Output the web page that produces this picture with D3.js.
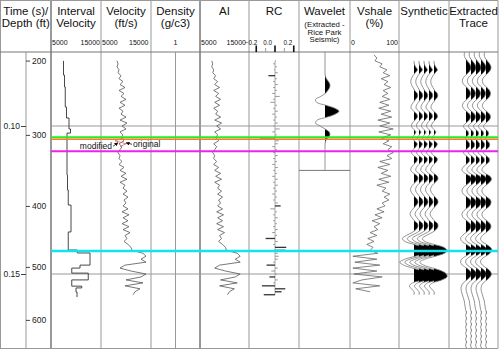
<!DOCTYPE html>
<html>
<head>
<meta charset="utf-8">
<script src="https://cdn.jsdelivr.net/npm/d3@7"></script>
<style>
  body { margin: 0; background: #fff; }
  svg { display: block; font-family: "Liberation Sans", Arial, sans-serif; }
</style>
</head>
<body>
<div id="chart"></div>
<script>
// ---- data: all logs/traces in two-way time (ms), sampled every 1 ms ----
const headers = [
  ['Time (s)/', 'Depth (ft)'], ['Interval', 'Velocity'], ['Velocity', '(ft/s)'],
  ['Density', '(g/c3)'], ['AI'], ['RC'], ['Wavelet'], ['Vshale', '(%)'],
  ['Synthetic'], ['Extracted', 'Trace']
];
const waveletSub = ['(Extracted -', 'Rice Park', 'Seismic)'];

const timeTicks = [0.10, 0.15];
// time-depth table (depth ft -> time ms)
const tdDepth = [200, 300, 400, 500, 600];
const tdTime = [77.9, 103.0, 127.0, 147.6, 165.5];

// interval velocity layers (top time ms, ft/s)
const ivTop = [78.0, 82.8, 86.8, 93.6, 97.3, 101.0, 102.4, 116.6, 121.6, 126.7, 135.8, 141.9, 142.9, 147.0, 148.0, 149.7, 152.0, 154.1, 154.7, 156.1];
const ivVel = [7500, 7700, 7850, 8100, 8600, 8900, 8200, 8300, 8450, 9000, 8450, 10250, 12800, 10800, 9150, 12450, 9150, 11150, 10000, 10200];
const ivBase = 157.8;

// sonic velocity, ms 78..157
const velStart = 78;
const velocity = [8200, 8400, 8200, 8600, 8400, 9000, 8600, 9400, 8800, 9800,
  8600, 9600, 9000, 10000, 8800, 9800, 8600, 9400, 9000, 10000,
  8800, 10200, 9200, 10000, 8800, 9400, 9000, 9600, 8600, 9200,
  8800, 8400, 8800, 8600, 9200, 8600, 9600, 8800, 10000, 9000,
  10200, 8800, 9800, 9400, 10200, 9400, 10400, 9600, 10000, 9400,
  10400, 9200, 10600, 9400, 10400, 9200, 10600, 9400, 10800, 9800,
  10200, 9600, 10400, 11000, 11200, 13400, 14000, 13000, 14000, 9800,
  8800, 11000, 14000, 13000, 10000, 13400, 9800, 12800, 11800, 11400];
// original (before edit) velocity, ms 104..107
const velOrigStart = 104;
const velOriginal = [9600, 7800, 10000, 8800];

const densityTime = [75, 175];
const density = [1, 1];

// reflection coefficients, ms 78..157
const rcStart = 78;
const rc = [0.01, -0.02, 0.02, -0.01, 0.03, -0.07, 0.02, -0.02, 0.03, -0.02,
  0.02, -0.03, 0.05, -0.02, -0.05, 0.02, -0.02, 0.03, -0.03, 0.02,
  -0.02, 0.03, -0.02, 0.05, -0.03, 0.02, -0.16, 0.04, 0.03, -0.03,
  0.02, -0.02, 0.03, -0.02, 0.02, -0.03, 0.03, -0.02, 0.02, -0.03,
  0.03, -0.02, 0.03, -0.02, 0.02, -0.03, 0.02, -0.02, 0.03, 0.06,
  -0.05, 0.02, -0.02, 0.03, -0.02, 0.02, -0.02, 0.03, -0.03, 0.02,
  -0.1, 0.03, -0.02, 0.12, 0.11, 0.03, 0.04, 0.03, -0.02, -0.09,
  0.03, -0.04, 0.02, -0.06, 0.03, -0.02, -0.14, 0.11, 0.07, -0.12];

// wavelet, lag -20..20 ms, displayed centred at 95 ms
const waveletCentre = 95;
const waveletAmp = [0, 0, 0, 0, 0, 0, 0, 0, 0.02, 0.1, 0.25, 0.35, 0.33, 0.2, 0.02, -0.3, -0.68, -0.6, 0.05, 0.7,
  1, 0.72, 0.15, -0.55, -0.68, -0.35, 0, 0.3, 0.35, 0.2, 0.05, 0, 0, 0, 0, 0, 0, 0, 0, 0, 0];

// vshale %, ms 76..156
const vshStart = 76;
const vshale = [50, 56, 52, 67, 62, 77, 69, 83, 65, 79, 71, 85, 69, 79, 67, 83, 62, 81, 60, 85,
  65, 87, 58, 83, 62, 90, 60, 85, 65, 81, 69, 87, 79, 90, 77, 87, 62, 83, 58, 79,
  65, 85, 60, 81, 56, 75, 67, 83, 71, 81, 67, 73, 56, 71, 52, 67, 46, 62, 50, 58,
  42, 56, 37, 50, 35, 48, 42, 58, 6, 56, 10, 62, 6, 56, 8, 67, 25, 6, 62, 12, 42];

// synthetic trace, ms 78..157
const synStart = 78;
const synthetic = [0, 0.02, 0.12, 0.26, 0.1, -0.08, -0.2, -0.25, -0.2, -0.08,
  0.05, 0.25, 0.28, 0.12, -0.05, -0.2, -0.22, -0.02, 0.22, 0.26,
  0.08, -0.12, -0.2, -0.05, 0.14, 0.02, -0.15, 0.02, 0.25, 0.15,
  -0.08, -0.2, -0.02, 0.25, 0.2, -0.02, -0.2, -0.25, -0.02, 0.26,
  0.3, 0.1, -0.12, -0.25, -0.25, -0.1, 0.08, 0.28, 0.3, 0.12,
  -0.08, -0.25, -0.3, -0.15, 0.02, 0.28, 0.3, 0.15, -0.15, -0.6,
  -0.9, -0.7, 0, 0.75, 1, 0.8, 0.1, -0.7, -1.1, -0.8,
  -0.1, 0.6, 0.95, 1, 0.6, -0.1, -0.35, -0.2, 0, 0];

// extracted seismic trace, ms 75..175
const extStart = 75;
const extracted = [-0.15, -0.2, -0.1, 0.15, 0.4, 0.55, 0.5, 0.25, -0.1, -0.35,
  -0.4, -0.25, 0.1, 0.4, 0.5, 0.4, 0.1, -0.25, -0.4, -0.3,
  0.05, 0.4, 0.5, 0.35, 0, -0.3, -0.1, 0.25, 0.25, -0.05,
  0.15, 0.4, 0.35, 0, -0.3, 0, 0.35, 0.35, 0, -0.35,
  -0.45, -0.1, 0.45, 0.6, 0.4, 0, -0.35, -0.45, -0.3, 0.1,
  0.5, 0.55, 0.4, 0, -0.35, -0.45, -0.3, 0.1, 0.45, 0.55,
  0.4, 0, -0.4, -0.6, -0.45, 0.05, 0.5, 0.65, 0.45, -0.05,
  -0.5, -0.6, -0.4, 0.05, 0.45, 0.6, 0.45, 0.1, -0.3, -0.5,
  -0.55, -0.5, -0.4, -0.3, -0.2, -0.15, -0.1, -0.05, 0.05, -0.05,
  0.05, -0.05, 0.05, -0.05, 0.05, -0.05, 0.05, -0.05, 0.05, -0.05,
  0.05];

// horizons (ms)
const horizonTime = [103.8, 104.5, 108.5, 142.2];
const horizonColor = ['#22ee22', '#ff7a22', '#ee22ee', '#11e2ee'];
const horizonWidth = [2, 1.5, 2, 2.5];

// ---- layout ----
const W = 500, H = 351;
const headTop = 0.5, plotTop = 52, plotBot = 348.5;
const edges = [0.5, 51, 101, 151, 200, 249, 299, 350, 399, 449, 498];
const darkEdges = [51, 200];

const svg = d3.select('#chart').append('svg').attr('width', W).attr('height', H);
const defs = svg.append('defs');

const y = d3.scaleLinear().domain([100, 150]).range([126, 274]);       // ms -> px
const ySec = d3.scaleLinear().domain([0.10, 0.15]).range([126, 274]);  // s -> px
const yDepth = d3.scaleLinear().domain(tdDepth).range(tdTime.map(y));

const ivX = d3.scaleLinear().domain([5000, 15000]).range([51, 101]);
const velX = d3.scaleLinear().domain([5000, 15000]).range([101, 151]);
const denX = d3.scaleLinear().domain([0, 2]).range([151, 200]);
const aiX = d3.scaleLinear().domain([5800, 15800]).range([200, 249]);
const rcX = d3.scaleLinear().domain([-0.2, 0.2]).range([256.25, 293.75]);
const vshX = d3.scaleLinear().domain([0, 100]).range([350, 398]);

const times = (start, arr) => arr.map((d, i) => start + i);

// ---- grid / frame ----
const grid = svg.append('g');
grid.selectAll('.col').data(edges).enter().append('line')
  .attr('x1', d => d).attr('x2', d => d).attr('y1', headTop).attr('y2', plotBot)
  .attr('stroke', d => darkEdges.includes(d) ? '#333' : '#999').attr('stroke-width', 1);
grid.append('line').attr('x1', 26).attr('x2', 26).attr('y1', plotTop).attr('y2', plotBot)
  .attr('stroke', '#999');
grid.append('line').attr('x1', 0).attr('x2', 498).attr('y1', headTop).attr('y2', headTop).attr('stroke', '#999');
grid.append('line').attr('x1', 0).attr('x2', 498).attr('y1', plotBot).attr('y2', plotBot).attr('stroke', '#999');
grid.append('line').attr('x1', 0).attr('x2', 498).attr('y1', plotTop).attr('y2', plotTop).attr('stroke', '#777');
grid.selectAll('.hg').data(timeTicks).enter().append('line')
  .attr('x1', 51).attr('x2', 498).attr('y1', d => ySec(d)).attr('y2', d => ySec(d))
  .attr('stroke', '#999');

// ---- headers ----
const head = svg.append('g').attr('fill', '#111').attr('text-anchor', 'middle');
headers.forEach((lines, i) => {
  const cx = (edges[i] + edges[i + 1]) / 2;
  lines.forEach((t, j) => {
    head.append('text').attr('x', cx).attr('y', 14.5 + j * 12.5).attr('font-size', 11.5).text(t);
  });
});
waveletSub.forEach((t, j) => {
  head.append('text').attr('x', (edges[6] + edges[7]) / 2).attr('y', 27 + j * 7.6)
    .attr('font-size', 7.8).text(t);
});

// scale labels
const sl = svg.append('g').attr('font-size', 7).attr('fill', '#111');
[[ivX, 52, 100], [velX, 102, 148.5], [aiX, 201, 246]].forEach(([s, a, b]) => {
  sl.append('text').attr('x', a).attr('y', 45).text('5000');
  sl.append('text').attr('x', b).attr('y', 45).attr('text-anchor', 'end').text('15000');
});
sl.append('text').attr('x', denX(1)).attr('y', 45).attr('text-anchor', 'middle').text('1');
sl.append('text').attr('x', vshX(0) + 1).attr('y', 45).text('0');
sl.append('text').attr('x', vshX(100)).attr('y', 45).attr('text-anchor', 'end').text('100');
const rcLabOff = [1, -3, -1.5];
[-0.2, 0, 0.2].forEach((v, i) => {
  sl.append('text').attr('x', rcX(v) + rcLabOff[i]).attr('y', 45).attr('text-anchor', 'end')
    .attr('font-size', 6.3).text(d3.format('.1f')(v));
  svg.append('line').attr('x1', rcX(v)).attr('x2', rcX(v)).attr('y1', 45.5).attr('y2', 52)
    .attr('stroke', '#111').attr('stroke-width', 1.6);
});
[-0.1, 0.1].forEach(v => {
  svg.append('line').attr('x1', rcX(v)).attr('x2', rcX(v)).attr('y1', 48).attr('y2', 52)
    .attr('stroke', '#999').attr('stroke-width', 1);
});

// ---- axes ----
const axT = svg.append('g').attr('transform', 'translate(26,0)')
  .call(d3.axisLeft(ySec).tickValues(timeTicks).tickFormat(d3.format('.2f')).tickSize(5).tickPadding(1));
const axD = svg.append('g').attr('transform', 'translate(26,0)')
  .call(d3.axisRight(yDepth).tickValues(tdDepth).tickFormat(d3.format('d')).tickSize(4).tickPadding(2));
[axT, axD].forEach(a => {
  a.select('.domain').remove();
  a.selectAll('text').attr('font-size', 8.5).attr('fill', '#222')
    .attr('font-family', '"Liberation Sans", Arial, sans-serif');
  a.selectAll('line').attr('stroke', '#444');
});

// ---- logs ----
const logs = svg.append('g').attr('fill', 'none');
const ivPts = ivTop.map((t, i) => [ivVel[i], t]).concat([[ivVel[ivVel.length - 1], ivBase]]);
logs.append('path').datum(ivPts)
  .attr('d', d3.line().curve(d3.curveStepBefore).x(d => ivX(d[0])).y(d => y(d[1])))
  .attr('stroke', '#333').attr('stroke-width', 0.9);

const velT = times(velStart, velocity);
logs.append('path').datum(velocity)
  .attr('d', d3.line().x(d => velX(d)).y((d, i) => y(velT[i])))
  .attr('stroke', '#555').attr('stroke-width', 0.8);
logs.append('path').datum(velOriginal)
  .attr('d', d3.line().x(d => velX(d)).y((d, i) => y(velOrigStart + i)))
  .attr('stroke', '#e06060').attr('stroke-width', 0.8);

logs.append('path').datum(density)
  .attr('d', d3.line().x(d => denX(d)).y((d, i) => y(densityTime[i])))
  .attr('stroke', '#999').attr('stroke-width', 1);

// acoustic impedance = velocity * density (density = 1)
logs.append('path').datum(velocity)
  .attr('d', d3.line().x(d => aiX(d * density[0])).y((d, i) => y(velT[i])))
  .attr('stroke', '#555').attr('stroke-width', 0.8);

// RC sticks
const rcT = times(rcStart, rc);
logs.append('line').attr('x1', rcX(0)).attr('x2', rcX(0))
  .attr('y1', y(rcT[0])).attr('y2', y(rcT[rcT.length - 1])).attr('stroke', '#aaa');
logs.selectAll('.rc').data(rc).enter().append('line')
  .attr('x1', rcX(0)).attr('x2', d => rcX(d))
  .attr('y1', (d, i) => y(rcT[i])).attr('y2', (d, i) => y(rcT[i]))
  .attr('stroke', d => Math.abs(d) >= 0.06 ? '#333' : '#999')
  .attr('stroke-width', d => Math.abs(d) >= 0.06 ? 1.3 : 1);

const vshT = times(vshStart, vshale);
logs.append('path').datum(vshale)
  .attr('d', d3.line().x(d => vshX(d)).y((d, i) => y(vshT[i])))
  .attr('stroke', '#666').attr('stroke-width', 0.8);

// ---- wiggle traces ----
let clipN = 0;
function wiggle(g, tArr, vals, base, gain, stroke) {
  const ax = d3.scaleLinear().domain([0, 1]).range([base, base + gain]);
  const pts = vals.map((v, i) => [tArr[i], v]);
  const id = 'wclip' + (clipN++);
  defs.append('clipPath').attr('id', id).append('rect')
    .attr('x', base).attr('y', 0).attr('width', 60).attr('height', H);
  g.append('path').datum(pts).attr('clip-path', `url(#${id})`)
    .attr('d', d3.area().curve(d3.curveCatmullRom).y(d => y(d[0])).x0(base).x1(d => ax(d[1])))
    .attr('fill', '#000');
  g.append('path').datum(pts)
    .attr('d', d3.line().curve(d3.curveCatmullRom).x(d => ax(d[1])).y(d => y(d[0])))
    .attr('fill', 'none').attr('stroke', stroke).attr('stroke-width', 0.8);
}

const wv = svg.append('g');
const wvT = waveletAmp.map((d, i) => waveletCentre - 20 + i);
wiggle(wv, wvT, waveletAmp, 325, 14, '#777');
wv.append('line').attr('x1', 299).attr('x2', 350)
  .attr('y1', y(wvT[wvT.length - 1])).attr('y2', y(wvT[wvT.length - 1])).attr('stroke', '#777');

const syn = svg.append('g');
const synT = times(synStart, synthetic);
[0, 1, 2, 3, 4].forEach(k => wiggle(syn, synT, synthetic, 414 + 5 * k, 13, '#777'));

const ext = svg.append('g');
const extT = times(extStart, extracted);
[0, 1, 2, 3, 4].forEach(k => wiggle(ext, extT, extracted, 466 + 5 * k, 9, '#777'));

// ---- horizons ----
svg.selectAll('.hz').data(horizonTime).enter().append('line')
  .attr('x1', 51).attr('x2', 498).attr('y1', d => y(d)).attr('y2', d => y(d))
  .attr('stroke', (d, i) => horizonColor[i]).attr('stroke-width', (d, i) => horizonWidth[i]);

// ---- annotation ----
defs.append('marker').attr('id', 'arr').attr('viewBox', '0 0 10 10').attr('refX', 9).attr('refY', 5)
  .attr('markerWidth', 5).attr('markerHeight', 5).attr('orient', 'auto')
  .append('path').attr('d', 'M0,0L10,5L0,10z').attr('fill', '#111');
const ax0 = velX(8800), ay0 = y(105.5);
const ann = svg.append('g').attr('font-size', 8.5).attr('fill', '#111');
ann.append('text').attr('x', ax0 - 8).attr('y', ay0 + 7).attr('text-anchor', 'end').text('modified');
ann.append('line').attr('x1', ax0 - 7).attr('y1', ay0 + 4).attr('x2', ax0 - 2).attr('y2', ay0 + 0.5)
  .attr('stroke', '#111').attr('stroke-width', 0.8).attr('marker-end', 'url(#arr)');
ann.append('text').attr('x', ax0 + 13).attr('y', ay0 + 4.5).text('original');
ann.append('line').attr('x1', ax0 + 12).attr('y1', ay0 + 2).attr('x2', ax0 + 6).attr('y2', ay0 + 0.5)
  .attr('stroke', '#111').attr('stroke-width', 0.8).attr('marker-end', 'url(#arr)');
</script>
</body>
</html>
